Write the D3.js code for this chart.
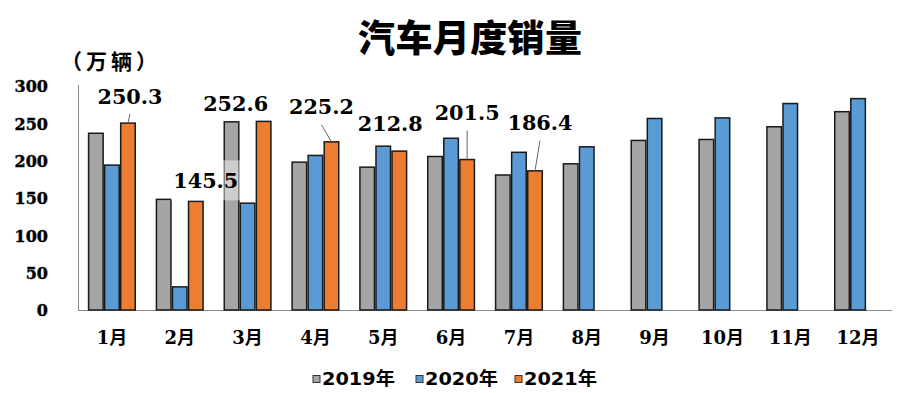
<!DOCTYPE html>
<html><head><meta charset="utf-8">
<script src="https://cdn.jsdelivr.net/npm/d3@7"></script>
<style>html,body{margin:0;padding:0;background:#fff;}svg{display:block;}</style>
</head><body>
<svg id="chart" width="900" height="393"></svg>
<script>
const months = ["1月","2月","3月","4月","5月","6月","7月","8月","9月","10月","11月","12月"];
const seriesNames = ["2019年","2020年","2021年"];
const sales2019 = [236.7,148.2,252.0,198.0,191.3,205.6,180.8,195.8,227.1,228.4,245.4,265.6];
const sales2020 = [194.1,31.0,143.1,207.0,219.4,230.0,211.2,218.6,256.5,257.3,276.5,283.1];
const sales2021 = [250.3,145.5,252.6,225.2,212.8,201.5,186.4];
const yTicks = [0,50,100,150,200,250,300];
const title = "汽车月度销量";
const unitLabel = "（万辆）";

// label placement (style only): offset of label centre from bar top, leader line flag
const labelOffsets = [[2,-27,true],[10,-21,false],[-28,-18,false],[-10,-35,true],[-9,-28,false],[0,-47,true],[5,-48,true]];

const colors = ["#a5a5a5","#5b9bd5","#ed7d31"];
const svg = d3.select("#chart");

const x0 = d3.scaleBand().domain(months).range([78, 892]).paddingInner(0.29).paddingOuter(0.145);
const x1 = d3.scaleBand().domain(seriesNames).range([0, x0.bandwidth()]);
const y = d3.scaleLinear().domain([0,300]).range([310, 86]);

const series = [sales2019, sales2020, sales2021];

// title
svg.append("text").attr("x", 470).attr("y", 52).attr("text-anchor","middle")
  .attr("font-family","'Noto Sans CJK SC'").attr("font-weight",900).attr("font-size",37)
  .attr("textLength", 224).attr("lengthAdjust","spacing")
  .attr("fill","#000").text(title);
svg.append("text").attr("x", 61).attr("y", 69)
  .attr("font-family","'Noto Sans CJK SC'").attr("font-weight",700).attr("font-size",21)
  .attr("textLength", 96).attr("lengthAdjust","spacing")
  .attr("fill","#000").text(unitLabel);

// axes lines
svg.append("line").attr("x1",78.5).attr("x2",78.5).attr("y1",85).attr("y2",y(0)).attr("stroke","#8c8c8c").attr("stroke-width",1);
svg.append("line").attr("x1",78).attr("x2",892).attr("y1",y(0)+0.5).attr("y2",y(0)+0.5).attr("stroke","#8c8c8c").attr("stroke-width",1);

// y tick labels
const yAxis = d3.axisLeft(y).tickValues(yTicks).tickSize(0).tickPadding(0);
const gy = svg.append("g").attr("transform","translate(48,0)").call(yAxis);
gy.select(".domain").remove();
gy.selectAll("text").attr("font-family","'DejaVu Serif'").attr("font-weight","bold").attr("font-size",16).attr("fill","#000").attr("dy","0.36em")
  .attr("stroke","#000").attr("stroke-width",0.4);

// x labels
const xAxis = d3.axisBottom(x0).tickSize(0).tickPadding(0);
const gx = svg.append("g").attr("transform","translate(0,331)").call(xAxis);
gx.select(".domain").remove();
gx.selectAll("text").attr("font-family","'DejaVu Serif','Noto Sans CJK SC'").attr("font-weight","bold").attr("font-size",18).attr("fill","#000");

// bars
const groups = svg.append("g").selectAll("g").data(months).join("g")
  .attr("transform", d => `translate(${x0(d)},0)`);
groups.selectAll("rect").data((m,i) => series.map((s,k) => ({k, v: s[i]})).filter(d => d.v != null))
  .join("rect")
  .attr("x", d => x1(seriesNames[d.k]) + 0.75)
  .attr("width", x1.bandwidth() - 1.5)
  .attr("y", d => y(d.v))
  .attr("height", d => y(0) - y(d.v))
  .attr("fill", d => colors[d.k])
  .attr("stroke", "#1a1a1a").attr("stroke-width", 1.5);

// 2021 value labels
const lab = svg.append("g");
sales2021.forEach((v,i) => {
  const cx = x0(months[i]) + x1("2021年") + x1.bandwidth()/2;
  const top = y(v);
  const [dx, dy, leader] = labelOffsets[i];
  const lx = cx + dx, ly = top + dy;
  if (i === 1) {
    lab.append("rect").attr("x", lx-35).attr("y", ly-20).attr("width", 70).attr("height", 40)
      .attr("fill","#fff").attr("opacity",0.45);
  }
  if (leader) {
    lab.append("line").attr("x1", lx).attr("y1", ly+18).attr("x2", cx).attr("y2", top)
      .attr("stroke","#666").attr("stroke-width",1);
  }
  lab.append("text").attr("x", lx).attr("y", ly).attr("text-anchor","middle").attr("dy","0.36em")
    .attr("font-family","'DejaVu Serif'").attr("font-weight","bold").attr("font-size",21)
    .attr("textLength", 65).attr("lengthAdjust","spacingAndGlyphs")
    .attr("fill","#000").text(v.toFixed(1));
});

// legend
const legendX = [313, 416, 515];
const lg = svg.append("g");
seriesNames.forEach((n,k) => {
  lg.append("rect").attr("x", legendX[k]).attr("y", 375.5).attr("width", 7).attr("height", 7)
    .attr("fill", colors[k]).attr("stroke","#333").attr("stroke-width",1);
  lg.append("text").attr("x", legendX[k] + 9).attr("y", 379).attr("dy","0.36em")
    .attr("font-family","'DejaVu Sans','Noto Sans CJK SC'").attr("font-weight","bold").attr("font-size",18)
    .attr("textLength", 73).attr("lengthAdjust","spacingAndGlyphs")
    .attr("fill","#000").text(n);
});
</script>
</body></html>
